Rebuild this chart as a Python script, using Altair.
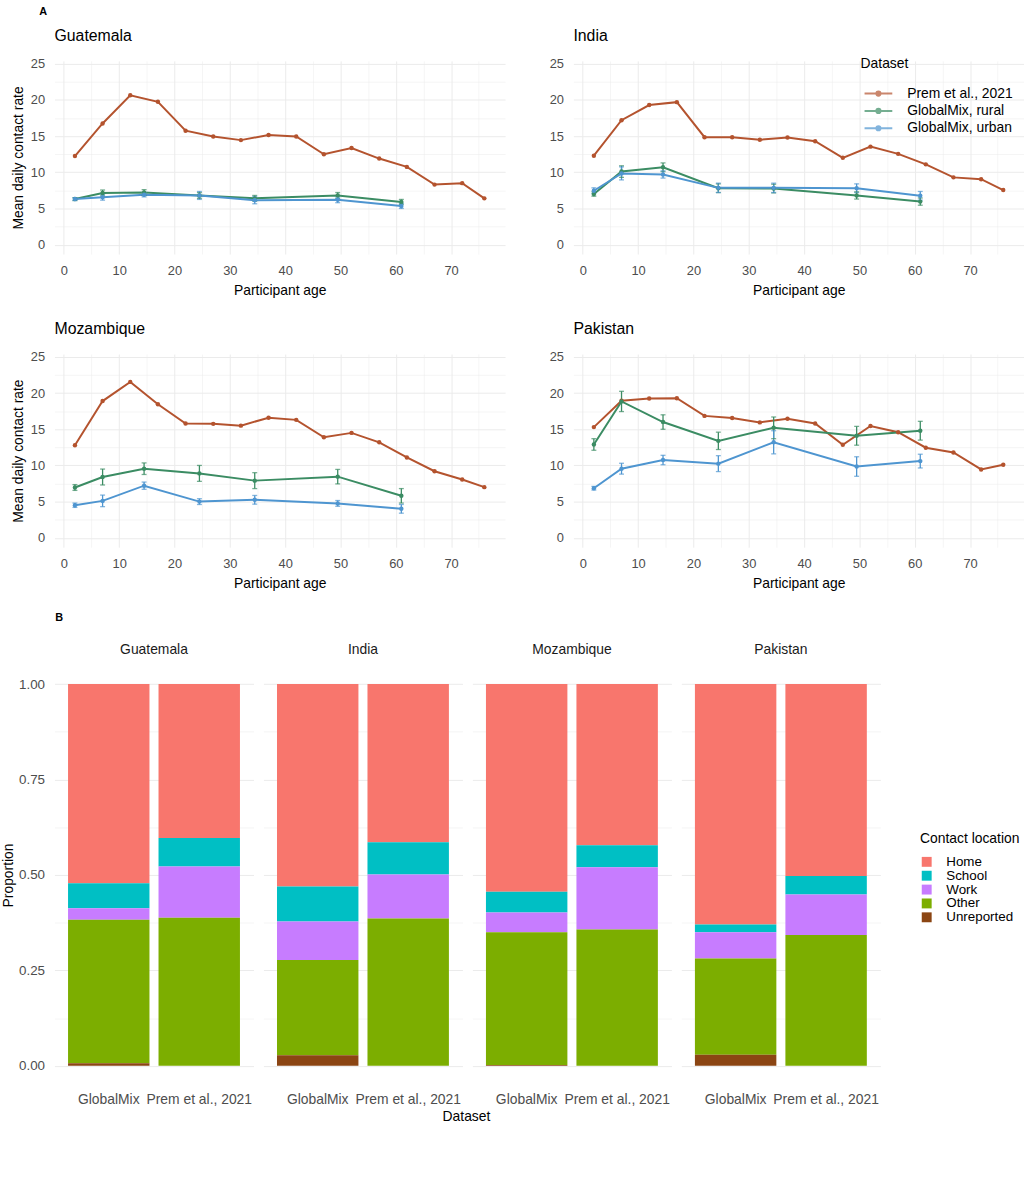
import altair as alt
import pandas as pd

# ---------------- Panel A: contact rate by participant age ----------------
countries = ["Guatemala", "India", "Mozambique", "Pakistan"]
datasets = ["Prem et al., 2021", "GlobalMix, rural", "GlobalMix, urban"]
dataset_colors = ["#B4532E", "#3B8C63", "#4E95D0"]

prem_age = [2, 7, 12, 17, 22, 27, 32, 37, 42, 47, 52, 57, 62, 67, 72, 76]
gm_age = [2, 7, 14.5, 24.5, 34.5, 49.5, 61]

prem_rate = {
    "Guatemala": [12.25, 16.75, 20.65, 19.75, 15.75, 14.95, 14.45, 15.15, 14.95, 12.5, 13.35, 11.9, 10.75, 8.3, 8.5, 6.4],
    "India": [12.3, 17.2, 19.3, 19.7, 14.85, 14.85, 14.5, 14.8, 14.3, 12.0, 13.55, 12.55, 11.1, 9.3, 9.05, 7.55],
    "Mozambique": [12.8, 18.9, 21.55, 18.45, 15.8, 15.75, 15.5, 16.6, 16.3, 13.9, 14.5, 13.2, 11.1, 9.2, 8.05, 7.0],
    "Pakistan": [15.3, 18.95, 19.25, 19.3, 16.85, 16.55, 15.95, 16.45, 15.8, 12.85, 15.45, 14.6, 12.45, 11.8, 9.45, 10.1],
}
rural_rate = {
    "Guatemala": [6.3, 7.15, 7.2, 6.8, 6.4, 6.8, 5.9],
    "India": [7.0, 10.1, 10.7, 7.8, 7.75, 6.8, 5.95],
    "Mozambique": [6.95, 8.4, 9.55, 8.9, 7.9, 8.45, 5.8],
    "Pakistan": [12.9, 18.85, 16.0, 13.4, 15.2, 14.1, 14.8],
}
rural_err = {
    "Guatemala": [0.2, 0.4, 0.4, 0.4, 0.4, 0.4, 0.35],
    "India": [0.3, 0.8, 0.6, 0.6, 0.6, 0.5, 0.5],
    "Mozambique": [0.4, 1.1, 0.8, 1.1, 1.1, 1.0, 1.0],
    "Pakistan": [0.8, 1.4, 1.0, 1.2, 1.5, 1.3, 1.3],
}
urban_rate = {
    "Guatemala": [6.3, 6.55, 6.9, 6.8, 6.15, 6.2, 5.35],
    "India": [7.45, 9.85, 9.7, 7.85, 7.85, 7.8, 6.75],
    "Mozambique": [4.5, 5.1, 7.2, 5.0, 5.25, 4.75, 4.0],
    "Pakistan": [6.85, 9.55, 10.75, 10.25, 13.2, 9.85, 10.6],
}
urban_err = {
    "Guatemala": [0.2, 0.4, 0.3, 0.55, 0.5, 0.4, 0.35],
    "India": [0.4, 0.9, 0.5, 0.65, 0.65, 0.6, 0.6],
    "Mozambique": [0.3, 0.8, 0.5, 0.4, 0.6, 0.4, 0.6],
    "Pakistan": [0.25, 0.75, 0.65, 1.1, 1.6, 1.35, 0.95],
}

# ---------------- Panel B: contact location proportions ----------------
bar_datasets = ["GlobalMix", "Prem et al., 2021"]
locations = ["Home", "School", "Work", "Other", "Unreported"]
location_colors = ["#F8766D", "#00BFC4", "#C77CFF", "#7CAE00", "#8B4513"]
# stacking order from the baseline upwards
stack_rank = {"Unreported": 0, "Other": 1, "Work": 2, "School": 3, "Home": 4}

# proportions per country: [GlobalMix, Prem] x [Home, School, Work, Other, Unreported]
location_share = {
    "Guatemala": [[0.522, 0.065, 0.030, 0.376, 0.007], [0.403, 0.075, 0.134, 0.388, 0.0]],
    "India": [[0.530, 0.092, 0.101, 0.249, 0.028], [0.414, 0.085, 0.115, 0.386, 0.0]],
    "Mozambique": [[0.544, 0.054, 0.052, 0.348, 0.002], [0.422, 0.058, 0.163, 0.357, 0.0]],
    "Pakistan": [[0.630, 0.020, 0.069, 0.252, 0.029], [0.503, 0.048, 0.106, 0.343, 0.0]],
}

FONT = "Liberation Sans"
GRID = "#EBEBEB"

line_rows, err_rows = [], []
for c in countries:
    for a, v in zip(prem_age, prem_rate[c]):
        line_rows.append({"country": c, "Dataset": datasets[0], "age": a, "rate": v})
    for name, rates, errs in [(datasets[1], rural_rate[c], rural_err[c]),
                              (datasets[2], urban_rate[c], urban_err[c])]:
        for a, v, e in zip(gm_age, rates, errs):
            line_rows.append({"country": c, "Dataset": name, "age": a, "rate": v})
            err_rows.append({"country": c, "Dataset": name, "age": a,
                             "lo": v - e, "hi": v + e})
lines_df = pd.DataFrame(line_rows)
err_df = pd.DataFrame(err_rows)


def minor_grid(step):
    return {
        "gridWidth": {"condition": {"test": f"datum.value % {step} !== 0", "value": 0.5}, "value": 1},
    }


def rate_panel(country, y_title, legend, title_offset=14):
    color = alt.Color(
        "Dataset:N",
        scale=alt.Scale(domain=datasets, range=dataset_colors),
        legend=legend,
    )
    x_axis = alt.Axis(
        values=list(range(0, 80, 5)),
        labelExpr="datum.value % 10 === 0 ? datum.label : ''",
        labelOverlap=False,
        title="Participant age",
        labelFontSize=13,
        titleFontSize=14,
        labelPadding=11,
        titlePadding=6,
        **minor_grid(10),
    )
    x_scale = alt.Scale(domain=[-1.7, 79.75], nice=False, zero=False)
    y_axis = alt.Axis(
        values=[k * 2.5 for k in range(11)],
        labelExpr="datum.value % 5 === 0 ? datum.label : ''",
        labelOverlap=False,
        labelFontSize=13,
        titleFontSize=14,
        labelPadding=10,
        titlePadding=5,
        title=y_title,
        **minor_grid(5),
    )
    y_scale = alt.Scale(domain=[-1.3, 25.4], nice=False, zero=False)

    def X():
        return alt.X("age:Q", scale=x_scale, axis=x_axis)

    def Y(field):
        return alt.Y(field, scale=y_scale, axis=y_axis)

    sel = alt.datum.country == country
    base_l = alt.Chart(lines_df).transform_filter(sel)
    base_e = alt.Chart(err_df).transform_filter(sel)

    line = base_l.mark_line(strokeWidth=2).encode(
        x=X(), y=Y("rate:Q"), color=color, detail="Dataset:N",
    )
    pts = base_l.mark_circle(size=20, opacity=1).encode(
        x=X(), y=Y("rate:Q"), color=color
    )
    rule = base_e.mark_rule(strokeWidth=1.3).encode(
        x=X(), y=Y("lo:Q"), y2="hi:Q", color=color
    )
    cap_lo = base_e.mark_tick(orient="horizontal", size=5, thickness=1.3).encode(
        x=X(), y=Y("lo:Q"), color=color
    )
    cap_hi = base_e.mark_tick(orient="horizontal", size=5, thickness=1.3).encode(
        x=X(), y=Y("hi:Q"), color=color
    )
    return alt.layer(line, rule, cap_lo, cap_hi, pts).properties(
        width=455,
        height=195,
        title=alt.TitleParams(
            country, anchor="start", fontSize=16, fontWeight="normal",
            color="#000000", offset=title_offset, frame="group",
        ),
    )


dataset_legend = alt.Legend(
    orient="none",
    legendX=290,
    legendY=-4,
    title="Dataset",
    titleFontSize=14,
    titleFontWeight="normal",
    titleColor="#000000",
    titlePadding=15,
    labelFontSize=14,
    labelColor="#000000",
    symbolType="M-2,0L2,0M-0.3,0A0.3,0.3,0,1,0,0.3,0A0.3,0.3,0,1,0,-0.3,0",
    symbolSize=196,
    symbolStrokeWidth=2,
    symbolOffset=10,
    labelOffset=21,
    rowPadding=2.5,
)

g = rate_panel("Guatemala", "Mean daily contact rate", None)
i = rate_panel("India", None, dataset_legend, title_offset=13)
m = rate_panel("Mozambique", "Mean daily contact rate", None)
p = rate_panel("Pakistan", None, None)

row1 = alt.hconcat(g, i, spacing=44).resolve_scale(color="independent")
row2 = alt.hconcat(m, p, spacing=44).resolve_scale(color="independent")
block_a = alt.vconcat(row1, row2, spacing=23).resolve_scale(color="independent").properties(
    title=alt.TitleParams("A", anchor="start", fontSize=11, fontWeight="bold",
                          color="#000000", offset=11, dx=28)
)

# ---------------- Panel B chart ----------------
bar_rows = []
for c in countries:
    for d, shares in zip(bar_datasets, location_share[c]):
        for loc, s in zip(locations, shares):
            bar_rows.append({"country": c, "dataset": d, "location": loc,
                             "prop": s, "rank": stack_rank[loc]})
bars_df = pd.DataFrame(bar_rows)

bars = alt.Chart(bars_df).mark_bar().encode(
    x=alt.X(
        "dataset:N",
        sort=bar_datasets,
        scale=alt.Scale(paddingInner=0.1, paddingOuter=0.15),
        axis=alt.Axis(title=None, labelAngle=0, labelFontSize=14, labelPadding=8,
                      labelOverlap=False, labelBound=False, bandPosition=0.5,
                      labelLimit=200),
    ),
    y=alt.Y(
        "prop:Q",
        stack="zero",
        scale=alt.Scale(domain=[-0.05, 1.05], nice=False, zero=False),
        axis=alt.Axis(
            title="Proportion",
            values=[k * 0.125 for k in range(9)],
            labelExpr="(datum.value * 4) % 1 === 0 ? format(datum.value, '.2f') : ''",
            labelOverlap=False,
            labelFontSize=13.5,
            titleFontSize=14,
            titleFontWeight="normal",
            labelPadding=10,
            titlePadding=3,
            gridWidth={"condition": {"test": "(datum.value * 4) % 1 !== 0", "value": 0.5}, "value": 1},
        ),
    ),
    color=alt.Color(
        "location:N",
        scale=alt.Scale(domain=locations, range=location_colors),
        legend=alt.Legend(
            title="Contact location",
            orient="none",
            legendX=874,
            legendY=169,
            titleFontSize=14,
            titleFontWeight="normal",
            titleColor="#000000",
            titlePadding=9,
            labelFontSize=13.5,
            labelColor="#000000",
            symbolType="square",
            symbolSize=100,
            symbolStrokeWidth=0,
            labelOffset=13,
            rowPadding=-2.1,
        ),
    ),
    order=alt.Order("rank:Q", sort="ascending"),
).properties(width=201, height=424)

facet_b = bars.facet(
    column=alt.Column(
        "country:N",
        sort=countries,
        header=alt.Header(title=None, labelFontSize=14, labelColor="#1A1A1A",
                          labelPadding=8, labelFont=FONT),
    ),
    spacing=10,
).properties(
    title=alt.TitleParams("Dataset", orient="bottom", anchor="middle", frame="group",
                          fontSize=14, fontWeight="normal", color="#000000",
                          offset=3, dx=416)
)

block_b = alt.vconcat(facet_b).properties(
    title=alt.TitleParams("B", anchor="start", fontSize=11, fontWeight="bold",
                          color="#000000", offset=20, dx=54)
)

chart = alt.vconcat(block_a, block_b, spacing=22).resolve_scale(
    color="independent"
).properties(
    padding={"left": 1, "top": 0, "right": 0, "bottom": 0}
).configure(
    font=FONT,
).configure_view(
    stroke=None,
).configure_axis(
    domain=False,
    ticks=False,
    gridColor=GRID,
    labelColor="#4D4D4D",
    titleColor="#000000",
    titleFontWeight="normal",
    labelFont=FONT,
    titleFont=FONT,
)

chart.save("out.html", embed_options={"renderer": "svg", "actions": False})
